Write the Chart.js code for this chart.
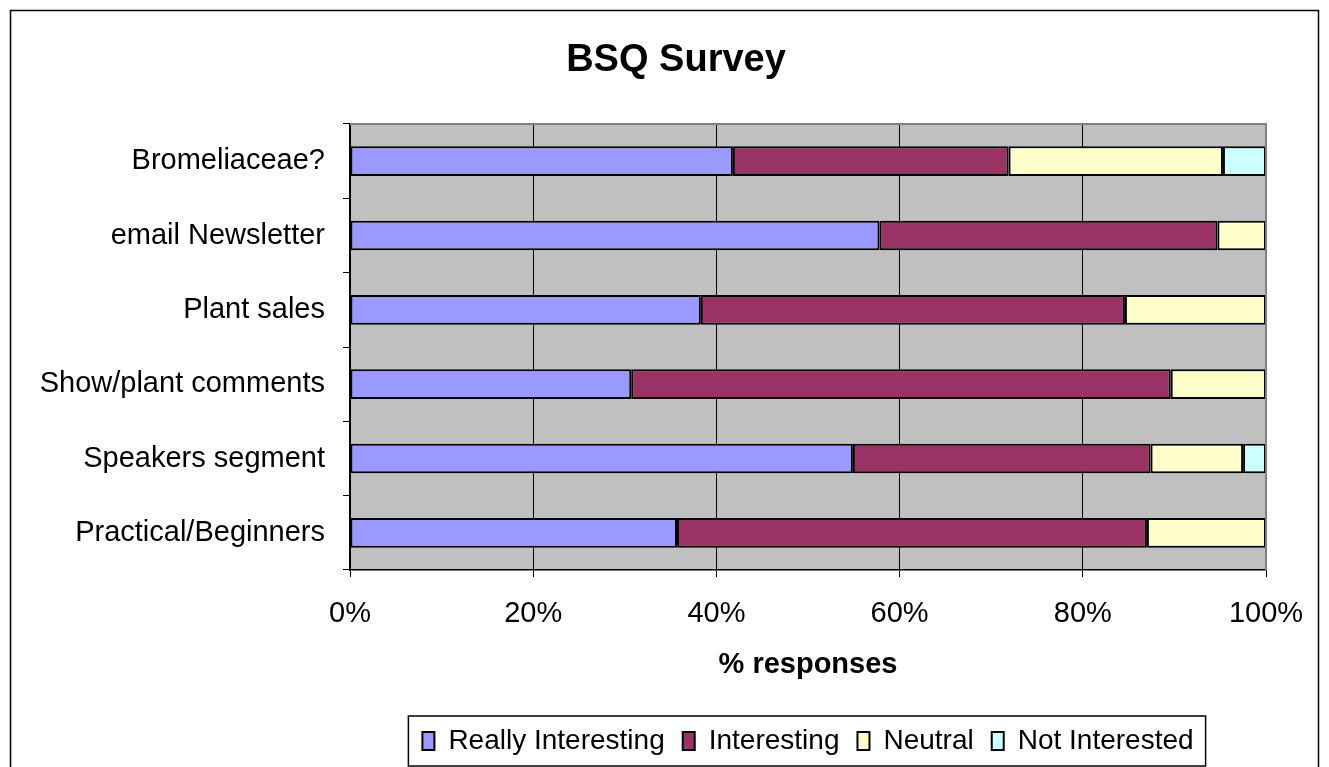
<!DOCTYPE html>
<html lang="en">
  <head>
    <meta charset="UTF-8" />
    <title>BSQ Survey</title>
    <script src="https://cdn.jsdelivr.net/npm/chart.js@4.4.1/dist/chart.umd.min.js"></script>
    <style>
      html, body { margin: 0; padding: 0; background: #fff; }
      #wrap { width: 1329px; height: 767px; position: relative; }
    </style>
  </head>
  <body>
    <div id="wrap">
      <canvas id="surveyChart" width="1329" height="767"></canvas>
    </div>
    <script>
      // survey data (% of responses)
      const categories = ['Bromeliaceae?', 'email Newsletter', 'Plant sales', 'Show/plant comments', 'Speakers segment', 'Practical/Beginners'];
      const reallyInteresting = [41.8, 57.8, 38.3, 30.7, 54.9, 35.7];
      const interesting = [30.1, 36.9, 46.3, 58.9, 32.5, 51.3];
      const neutral = [23.4, 5.3, 15.4, 10.4, 10.1, 13.0];
      const notInterested = [4.7, 0, 0, 0, 2.5, 0];
      const seriesNames = ['Really Interesting', 'Interesting', 'Neutral', 'Not Interested'];
      const seriesColors = ['#9999FF', '#993366', '#FFFFCC', '#CCFFFF'];
      const xTicks = [0, 20, 40, 60, 80, 100];
      const chartTitle = 'BSQ Survey';

      const FONT = 'Liberation Sans, Arial, sans-serif';

      // grey plot area, title, frames; legend centred under the plot like Excel does
      const decor = {
        id: 'decor',
        afterLayout(chart) {
          const a = chart.chartArea;
          chart.legend.left = a.left;
          chart.legend.right = a.right;
        },
        beforeDraw(chart) {
          const { ctx, chartArea: a } = chart;
          ctx.save();
          ctx.fillStyle = '#C0C0C0';
          ctx.fillRect(a.left, a.top, a.right - a.left, a.bottom - a.top);
          ctx.restore();
        },
        afterDraw(chart) {
          const { ctx, chartArea: a } = chart;
          ctx.save();
          ctx.strokeStyle = '#808080';
          ctx.lineWidth = 2;
          ctx.beginPath();
          ctx.moveTo(a.left, a.top);
          ctx.lineTo(a.right, a.top);
          ctx.lineTo(a.right, a.bottom);
          ctx.stroke();

          // title
          ctx.fillStyle = '#000';
          ctx.font = 'bold 38px ' + FONT;
          ctx.textAlign = 'center';
          ctx.textBaseline = 'middle';
          ctx.fillText(chartTitle, 676, 61);

          // outer frame
          ctx.strokeStyle = '#000';
          ctx.lineWidth = 1.5;
          ctx.strokeRect(10.5, 10.5, 1308, 800);

          // legend frame
          const boxes = chart.legend.legendHitBoxes;
          if (boxes && boxes.length) {
            const l = Math.min(...boxes.map(b => b.left)) - 14;
            const r = Math.max(...boxes.map(b => b.left + b.width)) + 12;
            const t = Math.min(...boxes.map(b => b.top)) - 11;
            const btm = Math.max(...boxes.map(b => b.top + b.height)) + 11;
            ctx.strokeStyle = '#000';
            ctx.lineWidth = 1.5;
            ctx.strokeRect(l, t, r - l, btm - t);
          }
          ctx.restore();
        }
      };

      const seriesData = [reallyInteresting, interesting, neutral, notInterested];

      const ctx = document.getElementById('surveyChart').getContext('2d');
      new Chart(ctx, {
        type: 'bar',
        data: {
          labels: categories,
          datasets: seriesNames.map((name, i) => ({
            label: name,
            data: seriesData[i],
            backgroundColor: seriesColors[i],
            borderColor: '#000',
            borderWidth: 2,
            borderSkipped: false,
            categoryPercentage: 1,
            barPercentage: 0.4
          }))
        },
        options: {
          indexAxis: 'y',
          responsive: false,
          animation: false,
          devicePixelRatio: 1,
          layout: { padding: { left: 10, right: 63, top: 124, bottom: 2 } },
          plugins: {
            title: { display: false },
            legend: {
              position: 'bottom',
              labels: {
                color: '#000',
                font: { family: FONT, size: 28 },
                boxWidth: 12,
                boxHeight: 18,
                padding: 18
              }
            },
            tooltip: { enabled: false }
          },
          scales: {
            x: {
              stacked: true,
              min: 0,
              max: 100,
              afterBuildTicks(scale) {
                scale.ticks = xTicks.map(v => ({ value: v }));
              },
              afterFit(scale) { scale.height = 139; },
              ticks: {
                color: '#000',
                font: { family: FONT, size: 29 },
                padding: 20,
                callback: v => v + '%'
              },
              grid: { color: '#000', lineWidth: 1, tickLength: 7 },
              border: { color: '#000', width: 1.5 },
              title: {
                display: true,
                text: '% responses',
                color: '#000',
                font: { family: FONT, size: 29, weight: 'bold' },
                padding: { top: 2, bottom: 27 }
              }
            },
            y: {
              stacked: true,
              afterFit(scale) { scale.width = 340; },
              ticks: {
                color: '#000',
                font: { family: FONT, size: 29 },
                padding: 18
              },
              grid: { drawOnChartArea: false, color: '#000', tickLength: 7 },
              border: { color: '#000', width: 1.5 }
            }
          }
        },
        plugins: [decor]
      });
    </script>
  </body>
</html>
